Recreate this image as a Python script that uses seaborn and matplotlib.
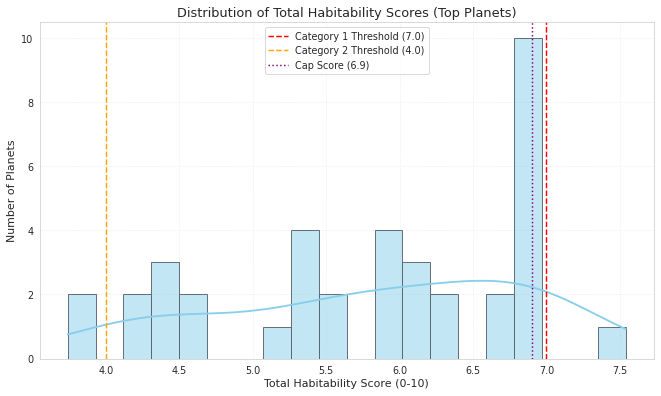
import matplotlib
matplotlib.use("Agg")
import matplotlib.pyplot as plt
import seaborn as sns
import pandas as pd

scores = [3.74, 3.88,
          4.20, 4.28,
          4.35, 4.40, 4.45,
          4.55, 4.62,
          5.15,
          5.30, 5.35, 5.38, 5.42,
          5.50, 5.58,
          5.88, 5.92, 5.95, 6.00,
          6.05, 6.10, 6.15,
          6.25, 6.35,
          6.65, 6.72,
          6.9, 6.9, 6.9, 6.9, 6.9, 6.9, 6.9, 6.9, 6.9, 6.9,
          7.54]
cat1_threshold = 7.0
cat2_threshold = 4.0
cap_score = 6.9

df = pd.DataFrame({"score": scores})

sns.set_style("whitegrid", {"grid.linestyle": ":", "grid.color": "#e6e6e6"})
fig, ax = plt.subplots(figsize=(10, 6), dpi=66.1)
sns.histplot(data=df, x="score", bins=20, kde=True, color="skyblue",
             edgecolor="#5a6670", alpha=0.5, ax=ax)
ax.lines[0].set_color("skyblue")
ax.lines[0].set_linewidth(2)
ax.axvline(cat1_threshold, color="red", linestyle="--", linewidth=1.6,
           label=f"Category 1 Threshold ({cat1_threshold})")
ax.axvline(cat2_threshold, color="orange", linestyle="--", linewidth=1.6,
           label=f"Category 2 Threshold ({cat2_threshold})")
ax.axvline(cap_score, color="purple", linestyle=":", linewidth=1.6,
           label=f"Cap Score ({cap_score})")
ax.set_title("Distribution of Total Habitability Scores (Top Planets)", fontsize=14)
ax.set_xlabel("Total Habitability Score (0-10)", fontsize=12)
ax.set_ylabel("Number of Planets", fontsize=12)
ax.tick_params(labelsize=10.5)
ax.legend(loc="upper center", fontsize=10.5)
plt.tight_layout(pad=0.8)
fig.savefig("out.png", dpi=66.1)
